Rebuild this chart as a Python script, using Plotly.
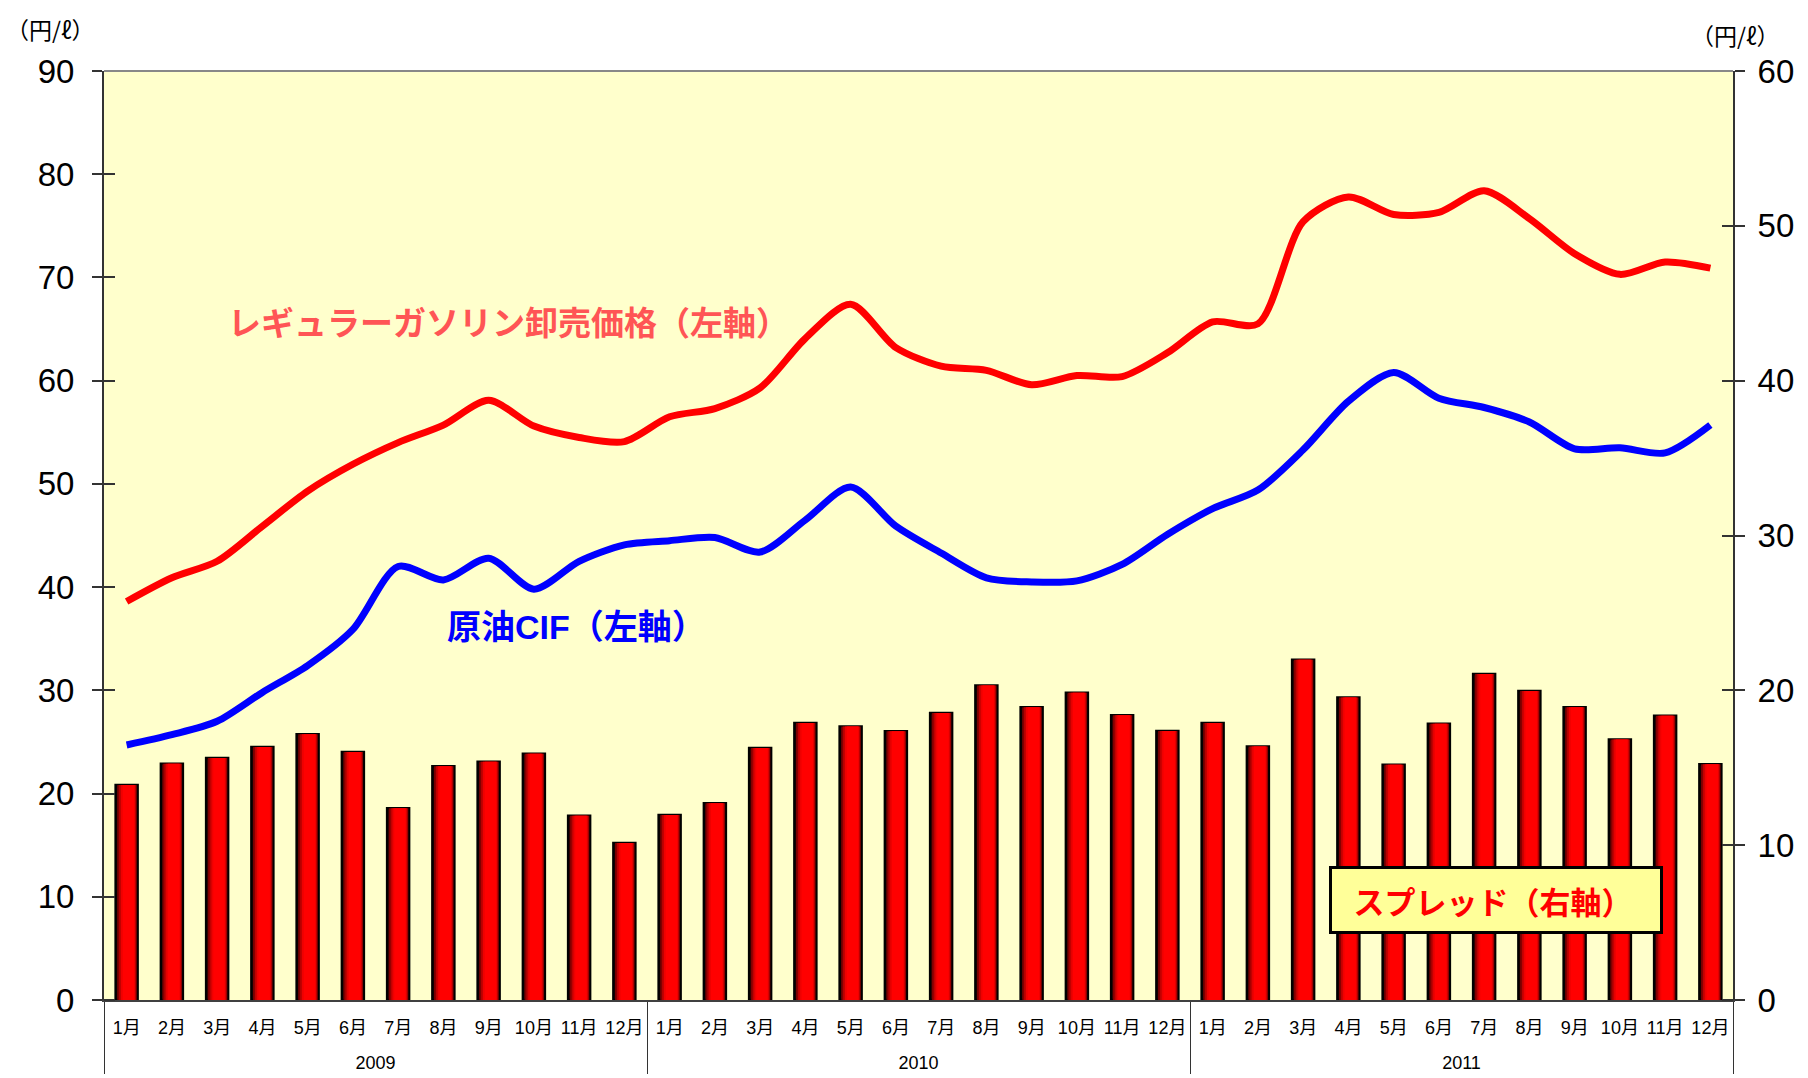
import plotly.graph_objects as go

years = ["2009"] * 12 + ["2010"] * 12 + ["2011"] * 12
months = [f"{m}月" for m in range(1, 13)] * 3

gasoline = [38.6, 40.9, 42.5, 45.9, 49.3, 51.9, 54.0, 55.7, 58.1, 55.6, 54.5, 54.1,
            56.5, 57.3, 59.3, 64.1, 67.4, 63.2, 61.4, 61.0, 59.6, 60.5, 60.4, 62.7,
            65.7, 65.5, 75.4, 77.8, 76.1, 76.3, 78.4, 75.7, 72.3, 70.3, 71.5, 70.9]
crude = [24.7, 25.7, 27.0, 29.8, 32.4, 35.9, 42.0, 40.7, 42.8, 39.8, 42.5, 44.1,
         44.5, 44.8, 43.4, 46.5, 49.7, 45.9, 43.3, 40.9, 40.5, 40.6, 42.2, 45.1,
         47.6, 49.4, 53.3, 58.0, 60.8, 58.3, 57.4, 56.0, 53.4, 53.5, 53.0, 55.7]
spread = [13.88, 15.26, 15.63, 16.34, 17.16, 16.01, 12.39, 15.09, 15.39, 15.91, 11.90, 10.14,
          11.95, 12.70, 16.28, 17.89, 17.67, 17.35, 18.54, 20.32, 18.90, 19.85, 18.39, 17.37,
          17.89, 16.38, 21.98, 19.53, 15.19, 17.84, 21.06, 19.96, 18.90, 16.83, 18.36, 15.22]

left_ticks = list(range(0, 91, 10))
right_ticks = list(range(0, 61, 10))

# outer (year) level is pushed one line lower, as in the original's two-row axis
x = [["<br>" + y for y in years], months]
FONT = "Liberation Sans, Arial, Noto Sans CJK JP, sans-serif"
CJK = "Noto Sans CJK JP, Liberation Sans, sans-serif"

fig = go.Figure()

# bars with simulated cylinder gradient (layers of the same data)
layers = [
    (0.486, -0.243, "#3a0000", 2.5),
    (0.43, -0.205, "#800000", 0),
    (0.37, -0.165, "#c00000", 0),
    (0.31, -0.125, "#ee0000", 0),
    (0.25, -0.085, "#ff0000", 0),
]
for w, off, col, lw in layers:
    fig.add_trace(go.Bar(x=x, y=spread, yaxis="y2", width=w, offset=off,
                         marker=dict(color=col, line=dict(color="black", width=lw)),
                         showlegend=False, hoverinfo="skip"))

fig.add_trace(go.Scatter(x=x, y=gasoline, mode="lines", yaxis="y",
                         line=dict(color="#ff0000", width=7, shape="spline", smoothing=0.8),
                         showlegend=False))
fig.add_trace(go.Scatter(x=x, y=crude, mode="lines", yaxis="y",
                         line=dict(color="#0000ff", width=7, shape="spline", smoothing=0.8),
                         showlegend=False))

axis_common = dict(showgrid=False, zeroline=False, showline=True, linecolor="#333333",
                   linewidth=2, ticks="outside", ticklen=10, tickwidth=2, tickcolor="#333333",
                   automargin=False,
                   tickfont=dict(family=FONT, size=33, color="black"))

# page body has an 8px margin, so the figure is 8px smaller and offset
fig.update_layout(
    width=1800, height=1070,
    margin=dict(l=96, r=75, t=63, b=78, autoexpand=False),
    paper_bgcolor="white", plot_bgcolor="#ffffcc",
    barmode="overlay",
    xaxis=dict(type="multicategory", showgrid=False, showline=True, linecolor="#404040",
               linewidth=2, ticks="", showdividers=True, dividercolor="#333333",
               dividerwidth=1, tickangle=0, automargin=False, ticklabelstandoff=10,
               tickfont=dict(family=FONT, size=18, color="black")),
    yaxis=dict(range=[0, 90], tickvals=left_ticks, side="left", ticklabelstandoff=11,
               minor=dict(ticks="inside", ticklen=11, tickwidth=2, tickcolor="#333333",
                          tick0=0.0001, dtick=10, showgrid=False),
               **axis_common),
    yaxis2=dict(range=[0, 60], tickvals=right_ticks, side="right", overlaying="y",
                ticklabelstandoff=6,
                minor=dict(ticks="inside", ticklen=11, tickwidth=2, tickcolor="#333333",
                           tick0=0.0001, dtick=10, showgrid=False),
                **axis_common),
    shapes=[dict(type="line", xref="paper", yref="paper", x0=0, x1=1, y0=1, y1=1,
                 line=dict(color="#888888", width=2))],
    annotations=[
        dict(text="（円/ℓ）", xref="paper", yref="paper", x=-0.0330, y=1.0450,
             xanchor="center", yanchor="middle",
             showarrow=False, font=dict(family=CJK, size=23, color="black")),
        dict(text="（円/ℓ）", xref="paper", yref="paper", x=1.0018, y=1.0387,
             xanchor="center", yanchor="middle",
             showarrow=False, font=dict(family=CJK, size=23, color="black")),
        dict(text="<b>レギュラーガソリン卸売価格（左軸）</b>", xref="paper", yref="paper",
             x=0.2483, y=0.7310, xanchor="center", yanchor="middle", showarrow=False,
             font=dict(family=CJK, size=33, color="#ff5555")),
        dict(text="<b>原油CIF（左軸）</b>", xref="paper", yref="paper",
             x=0.2899, y=0.4015, xanchor="center", yanchor="middle", showarrow=False,
             font=dict(family="Liberation Sans, Noto Sans CJK JP, sans-serif", size=34, color="#0000ff")),
        dict(text="<b>\u2002スプレッド（右軸）</b>", xref="paper", yref="paper",
             x=0.8545, y=0.108, xanchor="center", yanchor="middle",
             showarrow=False, width=316, height=50, align="left",
             bgcolor="#ffff99", bordercolor="black", borderwidth=3, borderpad=6,
             font=dict(family=CJK, size=31, color="#ff0000")),
    ],
)

fig.write_html("out.html")
